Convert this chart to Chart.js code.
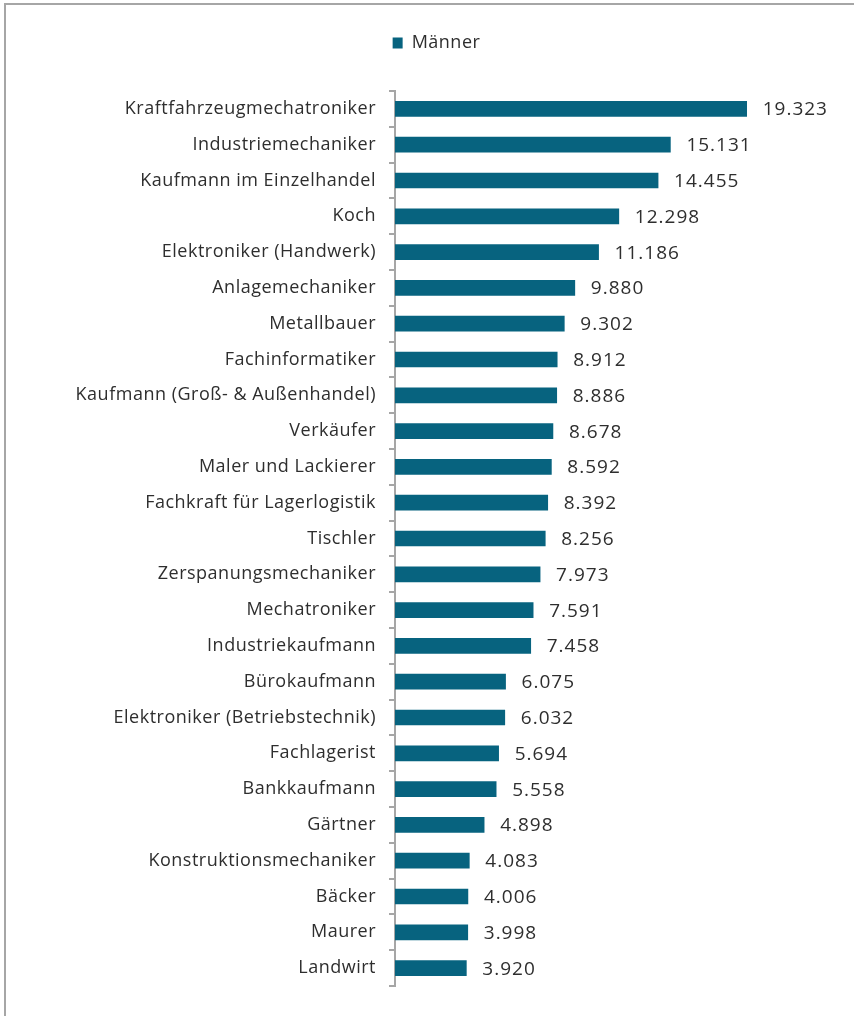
<!DOCTYPE html>
<html>
<head>
<meta charset="utf-8">
<script src="https://cdn.jsdelivr.net/npm/chart.js@4.4.1/dist/chart.umd.min.js"></script>
<style>
    html, body { margin: 0; padding: 0; background: #ffffff; }
    #wrap { position: relative; width: 854px; height: 1016px; overflow: hidden; }
    #frame { position: absolute; left: 4px; top: 3px; width: 900px; height: 1100px; border-left: 2px solid #a6a6a6; border-top: 2px solid #a6a6a6; box-sizing: border-box; }
    #myChart { position: absolute; left: 0; top: 0; }
</style>
</head>
<body>
<div id="wrap">
    <div id="frame"></div>
    <canvas id="myChart" width="854" height="1016"></canvas>
</div>
<script>
const categories = [
    'Kraftfahrzeugmechatroniker', 'Industriemechaniker', 'Kaufmann im Einzelhandel', 'Koch',
    'Elektroniker (Handwerk)', 'Anlagemechaniker', 'Metallbauer', 'Fachinformatiker',
    'Kaufmann (Groß- & Außenhandel)', 'Verkäufer', 'Maler und Lackierer', 'Fachkraft für Lagerlogistik',
    'Tischler', 'Zerspanungsmechaniker', 'Mechatroniker', 'Industriekaufmann',
    'Bürokaufmann', 'Elektroniker (Betriebstechnik)', 'Fachlagerist', 'Bankkaufmann',
    'Gärtner', 'Konstruktionsmechaniker', 'Bäcker', 'Maurer', 'Landwirt'
];
const maenner = [
    19323, 15131, 14455, 12298, 11186, 9880, 9302, 8912,
    8886, 8678, 8592, 8392, 8256, 7973, 7591, 7458,
    6075, 6032, 5694, 5558, 4898, 4083, 4006, 3998, 3920
];
const seriesLabel = 'Männer';

const fontFamily = "'Open Sans', sans-serif";
const textColor = '#2e2e2e';
const barColor = '#07637f';
const axisGray = '#a6a6a6';

// 19323 -> 19.323
const formatDe = (v) => String(v).replace(/\B(?=(\d{3})+(?!\d))/g, '.');

// the reference font runs a bit wider than Open Sans
const spacing = {
    id: 'spacing',
    beforeDraw(chart) {
        chart.ctx.letterSpacing = '0.5px';
    }
};

const valueLabels = {
    id: 'valueLabels',
    afterDatasetsDraw(chart) {
        const ctx = chart.ctx;
        const meta = chart.getDatasetMeta(0);
        ctx.save();
        ctx.font = '19px ' + fontFamily;
        ctx.letterSpacing = '1px';
        ctx.fillStyle = textColor;
        ctx.textAlign = 'left';
        ctx.textBaseline = 'middle';
        meta.data.forEach((bar, i) => {
            ctx.fillText(formatDe(maenner[i]), bar.x + 16, bar.y + 1);
        });
        ctx.restore();
    }
};

const legendSpace = {
    id: 'legendSpace',
    beforeInit(chart) {
        const fit = chart.legend.fit;
        chart.legend.fit = function () {
            fit.bind(chart.legend)();
            this.height += 29;
        };
    }
};

new Chart(document.getElementById('myChart').getContext('2d'), {
    type: 'bar',
    data: {
        labels: categories,
        datasets: [
            {
                label: seriesLabel,
                data: maenner,
                backgroundColor: barColor,
                borderWidth: 0,
                barThickness: 15,
            }
        ]
    },
    options: {
        indexAxis: 'y',
        responsive: false,
        animation: false,
        layout: {
            padding: { top: 26, left: 20, right: 4, bottom: 30 }
        },
        scales: {
            x: {
                display: false,
                min: 0,
                max: 25000,
            },
            y: {
                afterFit(scale) {
                    scale.width = 375;
                },
                border: {
                    display: true,
                    color: axisGray,
                    width: 2,
                },
                grid: {
                    offset: true,
                    drawOnChartArea: false,
                    drawTicks: true,
                    tickLength: 6,
                    color: axisGray,
                    lineWidth: 2,
                },
                ticks: {
                    color: textColor,
                    padding: 13,
                    font: { family: fontFamily, size: 18 },
                },
            },
        },
        plugins: {
            legend: {
                display: true,
                position: 'top',
                labels: {
                    boxWidth: 10,
                    boxHeight: 11,
                    padding: 8,
                    color: textColor,
                    font: { family: fontFamily, size: 18 },
                }
            },
            tooltip: { enabled: false },
        }
    },
    plugins: [spacing, valueLabels, legendSpace]
});
</script>
</body>
</html>
